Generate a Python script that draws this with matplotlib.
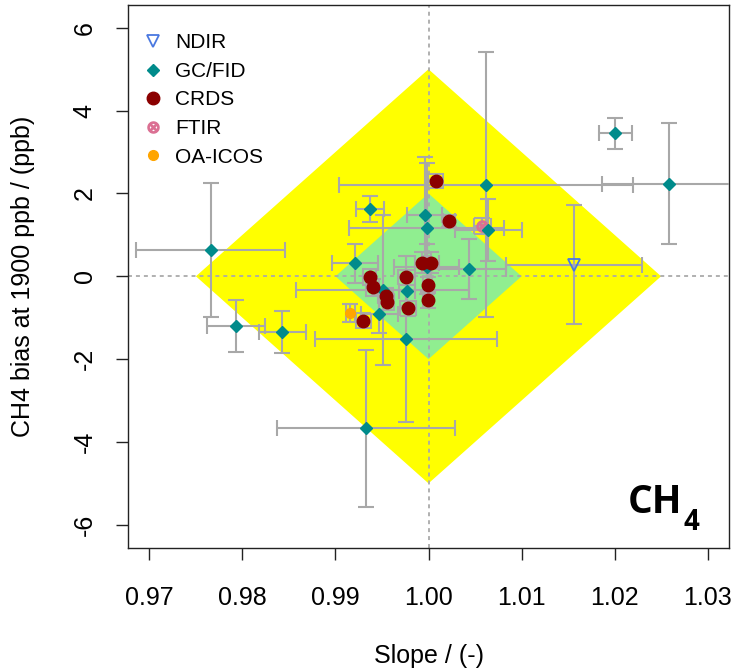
import matplotlib
matplotlib.use('Agg')
import matplotlib.pyplot as plt
from matplotlib.ticker import FormatStrFormatter

plt.rcParams['font.family'] = ['Liberation Sans', 'DejaVu Sans']
plt.rcParams['axes.unicode_minus'] = False

# GC/FID: slope, bias, slope error, bias error
gc_x = [0.9766, 0.9793, 0.9843, 0.9937, 0.9921, 0.9996, 0.9998, 0.9998, 1.0043,
        0.9951, 0.9977, 0.9947, 0.9976, 0.9933, 1.0062, 1.0064, 1.0201, 1.0258]
gc_y = [0.64, -1.20, -1.35, 1.62, 0.31, 1.48, 1.16, 0.22, 0.17,
        -0.33, -0.35, -0.91, -1.52, -3.67, 2.21, 1.12, 3.45, 2.24]
gc_xe = [0.0080, 0.0031, 0.0025, 0.0015, 0.0025, 0.0019, 0.0083, 0.0035, 0.0040,
         0.0093, 0.0009, 0.0020, 0.0098, 0.0096, 0.0158, 0.0036, 0.0018, 0.0071]
gc_ye = [1.62, 0.63, 0.51, 0.31, 0.48, 1.41, 1.58, 0.55, 0.73,
         1.81, 0.37, 0.45, 2.00, 1.90, 3.20, 0.74, 0.37, 1.45]

# CRDS
crds_x = [1.0008, 1.0022, 0.9993, 1.0003, 0.9937, 0.9940, 0.9976, 0.9999,
          0.9954, 0.9955, 0.9999, 0.9978, 0.9930]
crds_y = [2.29, 1.34, 0.33, 0.33, -0.02, -0.27, -0.02, -0.21,
          -0.48, -0.62, -0.57, -0.77, -1.07]
crds_xe = [0.0008, 0.0006, 0.0008, 0.0008, 0.0007, 0.0007, 0.0009, 0.0005,
           0.0008, 0.0008, 0.0005, 0.0009, 0.0008]
crds_ye = [0.17, 0.15, 0.25, 0.25, 0.20, 0.20, 0.18, 0.20,
           0.20, 0.20, 0.20, 0.18, 0.18]

# NDIR, FTIR, OA-ICOS
ndir_x, ndir_y, ndir_xe, ndir_ye = [1.0156], [0.28], [0.0073], [1.44]
ftir_x, ftir_y, ftir_xe, ftir_ye = [1.0058], [1.21], [0.0009], [0.20]
oa_x, oa_y, oa_xe, oa_ye = [0.9916], [-0.88], [0.0005], [0.22]

x_ticks = [0.97, 0.98, 0.99, 1.00, 1.01, 1.02, 1.03]
y_ticks = [-6, -4, -2, 0, 2, 4, 6]

fig = plt.figure(figsize=(7.32, 6.70), dpi=100)
ax = fig.add_axes([128 / 732, 122 / 670, 601 / 732, 543 / 670])

# tolerance diamonds
ax.add_patch(plt.Polygon([(0.975, 0), (1, 5), (1.025, 0), (1, -5)],
                         closed=True, fc='#FFFF00', ec='none', zorder=1))
ax.add_patch(plt.Polygon([(0.99, 0), (1, 2), (1.01, 0), (1, -2)],
                         closed=True, fc='#90EE90', ec='none', zorder=1))

ax.axvline(1, color='#AAAAAA', lw=1.3, ls=(0, (2.2, 2.2)), zorder=2)
ax.axhline(0, color='#AAAAAA', lw=1.3, ls=(0, (2.2, 2.2)), zorder=2)

eb = dict(fmt='none', ecolor='#A8A8A8', elinewidth=1.5, capsize=5.5,
          capthick=1.5, zorder=3)
for xs, ys, xe, ye in [(ndir_x, ndir_y, ndir_xe, ndir_ye),
                       (gc_x, gc_y, gc_xe, gc_ye),
                       (crds_x, crds_y, crds_xe, crds_ye),
                       (ftir_x, ftir_y, ftir_xe, ftir_ye),
                       (oa_x, oa_y, oa_xe, oa_ye)]:
    ax.errorbar(xs, ys, xerr=xe, yerr=ye, **eb)

h_ndir, = ax.plot(ndir_x, ndir_y, 'v', ms=8.5, mfc='none', mec='#4A78E0',
                  mew=1.3, ls='none', zorder=4, label='NDIR')
h_ftir, = ax.plot(ftir_x, ftir_y, marker=r'$\otimes$', ms=8, color='#DB7093',
                  ls='none', zorder=4, label='FTIR')
h_gc, = ax.plot(gc_x, gc_y, 'D', ms=6, color='#008B8B', ls='none',
                zorder=5, label='GC/FID')
h_crds, = ax.plot(crds_x, crds_y, 'o', ms=9, color='#8B0000', ls='none',
                  zorder=6, label='CRDS')
h_oa, = ax.plot(oa_x, oa_y, 'o', ms=7, color='#FFA500', ls='none',
                zorder=6, label='OA-ICOS')

ax.legend(handles=[h_ndir, h_gc, h_crds, h_ftir, h_oa], loc='upper left',
          bbox_to_anchor=(0.028, 0.948), frameon=False, fontsize=15,
          borderpad=0, borderaxespad=0, handlelength=0.8,
          handletextpad=0.65, labelspacing=0.46)

ax.set_xlim(0.9677, 1.0323)
ax.set_ylim(-6.56, 6.55)
ax.set_xticks(x_ticks)
ax.set_yticks(y_ticks)
ax.xaxis.set_major_formatter(FormatStrFormatter('%.2f'))
ax.tick_params(direction='out', length=8.5, width=1, labelsize=18, color='#222222')
ax.tick_params(axis='x', pad=19)
ax.tick_params(axis='y', pad=14)
plt.setp(ax.get_yticklabels(), rotation=90, va='center')
for s in ax.spines.values():
    s.set_linewidth(1)
    s.set_color('#222222')

ax.set_xlabel('Slope / (-)', fontsize=18)
ax.set_ylabel('CH4 bias at 1900 ppb / (ppb)', fontsize=18)
ax.xaxis.set_label_coords(0.5, -0.177)
ax.yaxis.set_label_coords(-0.155, 0.5)

t = ax.text(0.832, 0.0645, 'CH', transform=ax.transAxes, fontsize=28,
            fontweight='bold', family='Open Sans', ha='left', va='baseline')
ax.annotate('4', xy=(1, 0), xycoords=t, xytext=(1, -6), textcoords='offset points',
            fontsize=20, fontweight='bold', family='Open Sans',
            ha='left', va='baseline')

fig.savefig('out.png', dpi=100)
